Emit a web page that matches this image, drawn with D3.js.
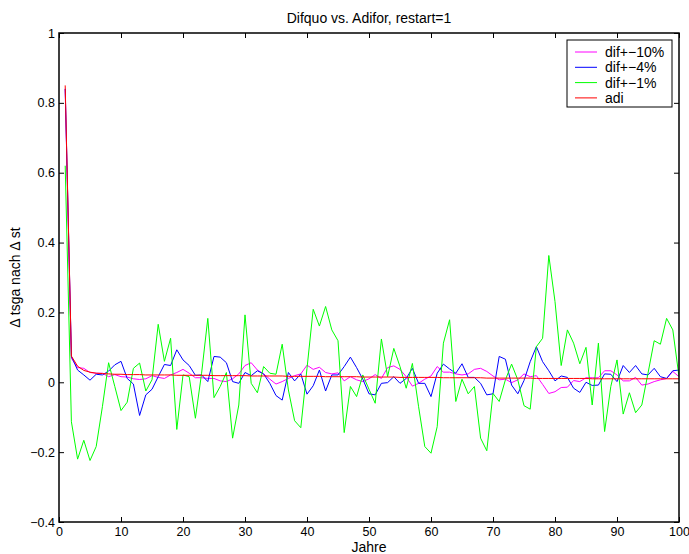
<!DOCTYPE html>
<html>
<head>
<meta charset="utf-8">
<script src="https://cdn.jsdelivr.net/npm/d3@7"></script>
<style>
  body { margin: 0; background: #fff; }
  svg { display: block; font-family: "Liberation Sans", Arial, sans-serif; }
</style>
</head>
<body>
<svg id="chart" width="689" height="554"></svg>
<script>
// Difquo vs. Adifor, restart=1

const years = d3.range(1, 101);

const dif10 = [
  0.84, 0.069, 0.042, 0.040, 0.028, 0.026, 0.026, 0.016, 0.022, 0.016,
  0.015, 0.010, 0.008, 0.010, 0.019, 0.014, 0.011, 0.021, 0.028, 0.037,
  0.026, 0.013, 0.013, 0.011, 0.011, 0.004, 0.002, 0.010, 0.024, 0.048,
  0.056, 0.035, 0.024, 0.009, -0.005, 0.002, 0.011, 0.019, 0.024, 0.049,
  0.037, 0.043, 0.028, 0.024, 0.027, 0.004, 0.016, 0.007, 0.002, 0.010,
  0.022, 0.011, 0.042, 0.047, 0.037, 0.016, -0.011, -0.003, 0.009, 0.018,
  0.045, 0.029, 0.029, 0.024, 0.021, 0.024, 0.037, 0.040, 0.031, 0.018,
  0.007, 0.009, -0.001, 0.007, 0.024, 0.016, 0.019, -0.006, -0.032, -0.027,
  -0.015, -0.014, 0.005, 0.002, 0.013, 0.013, 0.013, 0.033, 0.033, 0.021,
  0.004, 0.004, 0.014, -0.008, -0.005, 0.002, 0.007, 0.011, 0.031, 0.016
];

const dif4 = [
  0.84, 0.074, 0.035, 0.021, 0.006, 0.023, 0.021, 0.032, 0.050, 0.060,
  0.011, -0.005, -0.095, -0.036, -0.020, 0.016, 0.051, 0.048, 0.093, 0.064,
  0.048, 0.020, 0.021, 0.002, 0.074, 0.072, 0.056, 0.002, -0.003, 0.028,
  0.019, 0.033, 0.024, -0.003, -0.038, -0.051, 0.028, 0.004, 0.024, -0.034,
  -0.010, 0.035, -0.025, 0.021, 0.021, 0.045, 0.072, 0.042, 0.009, -0.033,
  -0.036, -0.003, -0.001, 0.016, -0.003, 0.011, 0.040, -0.003, -0.003, -0.041,
  0.026, 0.052, 0.038, 0.026, 0.053, 0.014, 0.014, -0.003, -0.036, -0.033,
  0.074, 0.066, -0.008, -0.033, 0.005, 0.059, 0.102, 0.059, 0.033, 0.004,
  0.018, 0.014, -0.017, -0.029, 0.000, -0.009, -0.008, 0.024, 0.023, 0.002,
  0.048, 0.028, 0.048, 0.024, 0.021, 0.040, 0.016, 0.011, 0.033, 0.035
];

const dif1 = [
  0.62, -0.113, -0.220, -0.166, -0.224, -0.184, -0.070, 0.056, -0.012, -0.081,
  -0.057, 0.040, 0.055, -0.025, 0.007, 0.166, 0.060, 0.126, -0.135, 0.021,
  0.016, -0.103, 0.026, 0.183, -0.044, -0.012, 0.028, -0.160, -0.065, 0.193,
  -0.003, -0.030, 0.045, 0.026, 0.023, 0.109, -0.022, -0.110, -0.130, 0.040,
  0.209, 0.161, 0.217, 0.150, 0.119, -0.144, -0.012, -0.041, 0.021, -0.020,
  -0.060, 0.124, 0.016, 0.097, 0.045, -0.017, 0.054, -0.070, -0.184, -0.203,
  -0.127, 0.112, 0.179, -0.055, 0.009, -0.033, -0.012, -0.160, -0.196, -0.032,
  -0.055, 0.007, 0.052, 0.007, -0.067, -0.077, 0.102, 0.126, 0.363, 0.231,
  0.048, 0.150, 0.112, 0.053, 0.100, -0.065, 0.112, -0.141, -0.012, 0.064,
  -0.091, -0.030, -0.087, -0.065, 0.026, 0.119, 0.109, 0.183, 0.150, 0.016
];

const adi = [
  0.85, 0.075, 0.046, 0.034, 0.029, 0.026, 0.025, 0.024, 0.023, 0.023,
  0.022, 0.022, 0.022, 0.021, 0.021, 0.021, 0.021, 0.021, 0.020, 0.020,
  0.020, 0.020, 0.020, 0.020, 0.019, 0.019, 0.019, 0.019, 0.019, 0.019,
  0.018, 0.018, 0.018, 0.018, 0.018, 0.018, 0.017, 0.017, 0.017, 0.017,
  0.017, 0.017, 0.016, 0.016, 0.016, 0.016, 0.016, 0.016, 0.015, 0.015,
  0.015, 0.015, 0.015, 0.015, 0.014, 0.014, 0.014, 0.014, 0.014, 0.014,
  0.014, 0.013, 0.013, 0.013, 0.013, 0.013, 0.013, 0.013, 0.012, 0.012,
  0.012, 0.012, 0.012, 0.012, 0.012, 0.012, 0.011, 0.011, 0.011, 0.011,
  0.011, 0.011, 0.011, 0.011, 0.011, 0.010, 0.010, 0.010, 0.010, 0.010,
  0.010, 0.010, 0.010, 0.010, 0.010, 0.010, 0.010, 0.010, 0.010, 0.010
];

const seriesNames = ["dif+\u221210%", "dif+\u22124%", "dif+\u22121%", "adi"];
const seriesColors = ["#ff00ff", "#0000ff", "#00ff00", "#ff0000"];
const seriesValues = [dif10, dif4, dif1, adi];

const xTicks = [0, 10, 20, 30, 40, 50, 60, 70, 80, 90, 100];
const yTicks = [-0.4, -0.2, 0, 0.2, 0.4, 0.6, 0.8, 1];

// plot box
const plotLeft = 59, plotRight = 679, plotTop = 33, plotBottom = 522;
const TICK = 5;
const FONT = "14px";
const TICK_FONT = "12.5px";

const svg = d3.select("#chart");

const x = d3.scaleLinear().domain([0, 100]).range([plotLeft, plotRight]);
const y = d3.scaleLinear().domain([-0.4, 1]).range([plotBottom, plotTop]);

const fmt = d => (d < 0 ? "\u2212" : "") + d3.format("~g")(Math.abs(d));

// axes with inward ticks, mirrored on top/right
function styleAxis(g) {
  g.select(".domain").remove();
  g.selectAll(".tick line").attr("stroke", "#000").attr("stroke-width", 1);
  g.selectAll(".tick text").attr("fill", "#000").style("font-size", TICK_FONT);
}

svg.append("g")
  .attr("transform", `translate(0,${plotBottom})`)
  .call(d3.axisBottom(x).tickValues(xTicks).tickFormat(fmt).tickSizeInner(-TICK).tickSizeOuter(0).tickPadding(5))
  .call(styleAxis);

svg.append("g")
  .attr("transform", `translate(0,${plotTop})`)
  .call(d3.axisTop(x).tickValues(xTicks).tickFormat("").tickSizeInner(-TICK).tickSizeOuter(0))
  .call(styleAxis);

svg.append("g")
  .attr("transform", `translate(${plotLeft},0)`)
  .call(d3.axisLeft(y).tickValues(yTicks).tickFormat(fmt).tickSizeInner(-TICK).tickSizeOuter(0).tickPadding(4))
  .call(styleAxis);

svg.append("g")
  .attr("transform", `translate(${plotRight},0)`)
  .call(d3.axisRight(y).tickValues(yTicks).tickFormat("").tickSizeInner(-TICK).tickSizeOuter(0))
  .call(styleAxis);

// data lines, clipped to the box
svg.append("clipPath").attr("id", "clip")
  .append("rect").attr("x", plotLeft).attr("y", plotTop)
  .attr("width", plotRight - plotLeft).attr("height", plotBottom - plotTop);

const line = d3.line().x((d, i) => x(years[i])).y(d => y(d));

const plot = svg.append("g").attr("clip-path", "url(#clip)");
seriesValues.forEach((vals, k) => {
  plot.append("path")
    .datum(vals)
    .attr("fill", "none")
    .attr("stroke", seriesColors[k])
    .attr("stroke-width", 1)
    .attr("stroke-linejoin", "round")
    .attr("d", line);
});

// box frame
svg.append("rect")
  .attr("x", plotLeft).attr("y", plotTop)
  .attr("width", plotRight - plotLeft).attr("height", plotBottom - plotTop)
  .attr("fill", "none")
  .attr("stroke", "#000")
  .attr("stroke-width", 1.5);

// titles
svg.append("text")
  .attr("x", (plotLeft + plotRight) / 2).attr("y", 23)
  .attr("text-anchor", "middle")
  .style("font-size", FONT)
  .text("Difquo vs. Adifor, restart=1");

svg.append("text")
  .attr("x", (plotLeft + plotRight) / 2).attr("y", 552)
  .attr("text-anchor", "middle")
  .style("font-size", FONT)
  .text("Jahre");

svg.append("text")
  .attr("transform", `translate(20,${(plotTop + plotBottom) / 2}) rotate(-90)`)
  .attr("text-anchor", "middle")
  .style("font-size", FONT)
  .text("\u0394 tsga nach \u0394 st");

// legend
const lg = svg.append("g");
lg.append("rect")
  .attr("x", 567).attr("y", 40)
  .attr("width", 105).attr("height", 67)
  .attr("fill", "#fff")
  .attr("stroke", "#000")
  .attr("stroke-width", 1);

seriesNames.forEach((name, k) => {
  const ry = 52 + k * 15.3;
  lg.append("line")
    .attr("x1", 575).attr("x2", 597)
    .attr("y1", ry).attr("y2", ry)
    .attr("stroke", seriesColors[k])
    .attr("stroke-width", 1);
  lg.append("text")
    .attr("x", 605).attr("y", ry + 5)
    .style("font-size", FONT)
    .text(name);
});
</script>
</body>
</html>
